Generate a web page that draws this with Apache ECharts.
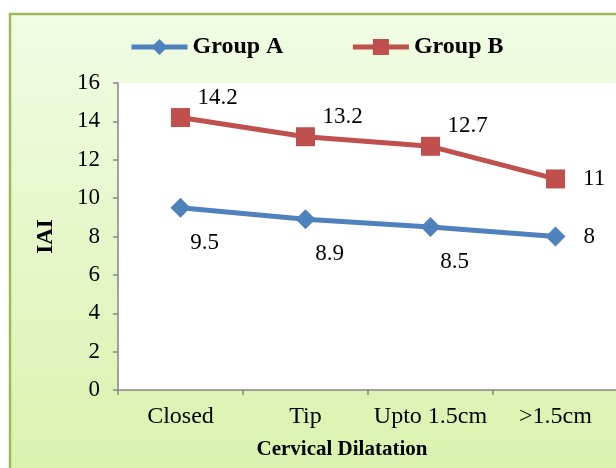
<!DOCTYPE html>
<html lang="en">
<head>
    <meta charset="utf-8">
    <title>IAI by Cervical Dilatation</title>
    <style>
* {
  margin: 0;
  padding: 0;
}
#chart-container {
  position: relative;
  width: 616px;
  height: 468px;
  overflow: hidden;
  background: #fff;
}
    </style>
</head>
<body>
<div id="chart-container"></div>
<script src="https://cdn.jsdelivr.net/npm/echarts@6/dist/echarts.min.js"></script>
<script>
// data
let categories = ['Closed', 'Tip', 'Upto 1.5cm', '>1.5cm'];
let groupA = [9.5, 8.9, 8.5, 8];
let groupB = [14.2, 13.2, 12.7, 11];
let yTicks = [0, 2, 4, 6, 8, 10, 12, 14, 16];

var dom = document.getElementById('chart-container');
var myChart = echarts.init(dom, null, { renderer: 'canvas' });

var serif = 'Liberation Serif';

// label placement: last point goes to the right, others offset
function withLabels(values, offset) {
  return values.map(function (v, i) {
    if (i === values.length - 1) {
      return { value: v, label: { position: 'right', distance: 18 } };
    }
    return { value: v, label: { position: 'inside', offset: offset } };
  });
}

var option = {
  animation: false,
  graphic: [
    {
      type: 'rect',
      z: -10,
      shape: { x: 10, y: 14, width: 620, height: 470 },
      style: {
        fill: new echarts.graphic.LinearGradient(0, 0, 0, 1, [
          { offset: 0, color: '#f1fce4' },
          { offset: 1, color: '#d9f2ac' }
        ]),
        stroke: '#9bbb59',
        lineWidth: 2.5
      }
    }
  ],
  legend: {
    top: 30,
    left: 124,
    itemWidth: 56,
    itemHeight: 20,
    itemGap: 67,
    lineStyle: { width: 5 },
    textStyle: { fontFamily: serif, fontWeight: 'bold', fontSize: 24, color: '#000' },
    data: ['Group A', 'Group B']
  },
  grid: {
    left: 118,
    top: 83,
    width: 500,
    height: 307,
    outerBoundsMode: 'none',
    containLabel: false,
    show: true,
    backgroundColor: '#fff',
    borderWidth: 0
  },
  xAxis: {
    type: 'category',
    data: categories,
    boundaryGap: true,
    name: 'Cervical Dilatation',
    nameLocation: 'middle',
    nameGap: 49,
    nameTextStyle: { fontFamily: serif, fontWeight: 'bold', fontSize: 21, color: '#000', padding: [0, 0, 0, -52] },
    axisLine: { lineStyle: { color: '#868686', width: 1.5 } },
    axisTick: { show: true, length: 5, lineStyle: { color: '#868686', width: 1.5 } },
    axisLabel: { fontFamily: serif, fontSize: 24, color: '#000', margin: 15, interval: 0, hideOverlap: false }
  },
  yAxis: {
    type: 'value',
    min: yTicks[0],
    max: yTicks[yTicks.length - 1],
    interval: 2,
    name: 'IAI',
    nameLocation: 'middle',
    nameGap: 60,
    nameRotate: 90,
    nameTextStyle: { fontFamily: serif, fontWeight: 'bold', fontSize: 23, color: '#000' },
    splitLine: { show: false },
    axisLine: { show: true, lineStyle: { color: '#868686', width: 1.5 } },
    axisTick: { show: true, length: 5, lineStyle: { color: '#868686', width: 1.5 } },
    axisLabel: { fontFamily: serif, fontSize: 23, color: '#000', margin: 18 }
  },
  series: [
    {
      name: 'Group A',
      type: 'line',
      data: withLabels(groupA, [24, 35]),
      symbol: 'diamond',
      symbolSize: 20,
      color: '#4f81bd',
      lineStyle: { width: 5, color: '#4f81bd' },
      label: { show: true, fontFamily: serif, fontSize: 23, color: '#000' }
    },
    {
      name: 'Group B',
      type: 'line',
      data: withLabels(groupB, [37, -20]),
      symbol: 'rect',
      symbolSize: 19,
      color: '#c0504d',
      lineStyle: { width: 5, color: '#c0504d' },
      label: { show: true, fontFamily: serif, fontSize: 23, color: '#000' }
    }
  ]
};

myChart.setOption(option);
window.addEventListener('resize', myChart.resize);
</script>
</body>
</html>
